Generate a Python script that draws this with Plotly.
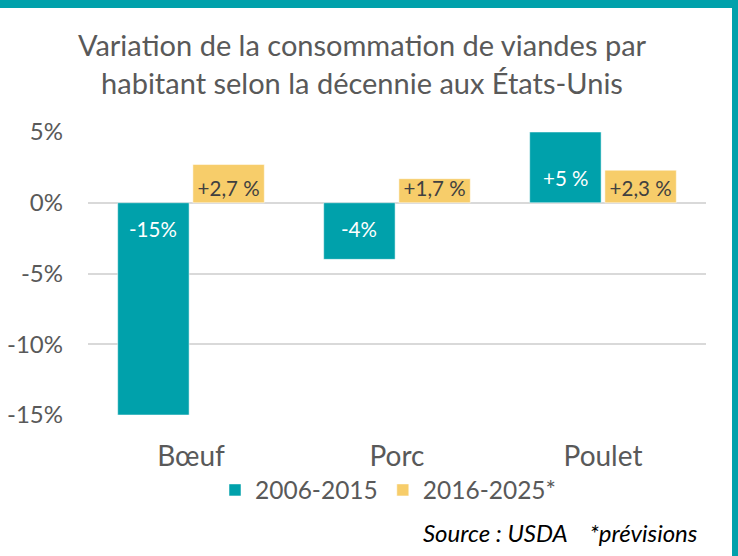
import plotly.graph_objects as go

# data
categories = ["Bœuf", "Porc", "Poulet"]
series_names = ["2006-2015", "2016-2025*"]
values_2006_2015 = [-15, -4, 5]
values_2016_2025 = [2.7, 1.7, 2.3]
labels_2006_2015 = ["-15%", "-4%", "+5 %"]
labels_2016_2025 = ["+2,7 %", "+1,7 %", "+2,3 %"]
y_tickvals = [5, 0, -5, -10, -15]
y_ticktext = ["5%", "0%", "-5%", "-10%", "-15%"]

TEAL = "#00A1AB"
YELLOW = "#F7CD6A"
GREY = "#595959"
FONT = "Lato"

W, H = 738, 556
L, R, T, B = 88, 32, 132, 141
BARGAP = 0.27


def px_x(px):
    return (px - L) / (W - L - R)


def px_y(py):
    return (H - B - py) / (H - T - B)


fig = go.Figure()
fig.add_trace(go.Bar(
    x=categories, y=values_2006_2015, name=series_names[0],
    marker=dict(color=TEAL, line=dict(color="rgba(255,255,255,0.5)", width=1)),
    hoverinfo="skip",
))
fig.add_trace(go.Bar(
    x=categories, y=values_2016_2025, name=series_names[1],
    marker=dict(color=YELLOW, line=dict(color="rgba(255,255,255,0.5)", width=1)),
    text=labels_2016_2025, textposition="inside", insidetextanchor="start",
    textangle=0, constraintext="none",
    textfont=dict(color="#404040", size=20.5, family=FONT),
    hoverinfo="skip",
))

# white labels on teal bars, placed near the zero line
cat_px = (W - L - R) / len(categories)
teal_offset = -(1 - BARGAP) / 4 * cat_px
for cat, val, lab in zip(categories, values_2006_2015, labels_2006_2015):
    fig.add_annotation(
        x=cat, y=0, xref="x", yref="y", text=lab, showarrow=False,
        xshift=teal_offset, yshift=25 if val > 0 else -26, yanchor="middle",
        font=dict(color="white", size=20.5, family=FONT),
    )

# teal frame (top and right edges)
frame = dict(type="rect", xref="paper", yref="paper", fillcolor=TEAL,
             line=dict(width=0), layer="above")
fig.add_shape(**frame, x0=px_x(0), x1=px_x(740), y0=px_y(8), y1=px_y(-2))
fig.add_shape(**frame, x0=px_x(732), x1=px_x(740), y0=px_y(558), y1=px_y(-2))

fig.add_annotation(
    text="Source : USDA    *prévisions", xref="paper", yref="paper",
    x=px_x(700), y=px_y(532), xanchor="right", yanchor="middle",
    showarrow=False, font=dict(size=24, color="black", family=FONT, style="italic"),
)

# zero-width non-joiner keeps Lato from drawing the "ti" ligature
title_text = ("Varia\u200ction de la consomma\u200ction de viandes par<br>"
              "habitant selon la décennie aux États-Unis")

fig.update_layout(
    width=W, height=H,
    margin=dict(l=L, r=R, t=T, b=B, autoexpand=False),
    paper_bgcolor="white", plot_bgcolor="white",
    font=dict(family=FONT, color=GREY),
    title=dict(
        text=title_text,
        x=362 / W, xanchor="center", xref="container",
        y=1 - 56 / H, yanchor="middle", yref="container",
        font=dict(size=29, color=GREY, family=FONT),
    ),
    barmode="group", bargap=BARGAP, bargroupgap=0.05,
    showlegend=True,
    legend=dict(
        orientation="h", x=px_x(388), y=px_y(490), xanchor="center", yanchor="middle",
        font=dict(size=24.5, color=GREY), itemwidth=30, traceorder="normal",
    ),
    xaxis=dict(
        showgrid=False, zeroline=False, showline=False,
        tickfont=dict(size=28, color=GREY), ticklabelstandoff=22,
    ),
    yaxis=dict(
        range=[-15, 5], tickvals=y_tickvals, ticktext=y_ticktext,
        showgrid=True, gridcolor="#D9D9D9", gridwidth=2,
        zeroline=True, zerolinecolor="#D9D9D9", zerolinewidth=2,
        showline=False, tickfont=dict(size=24, color=GREY), ticklabelstandoff=24,
    ),
)

fig.write_html("out.html", config={"displayModeBar": False},
               post_script="document.body.style.margin='0';")
